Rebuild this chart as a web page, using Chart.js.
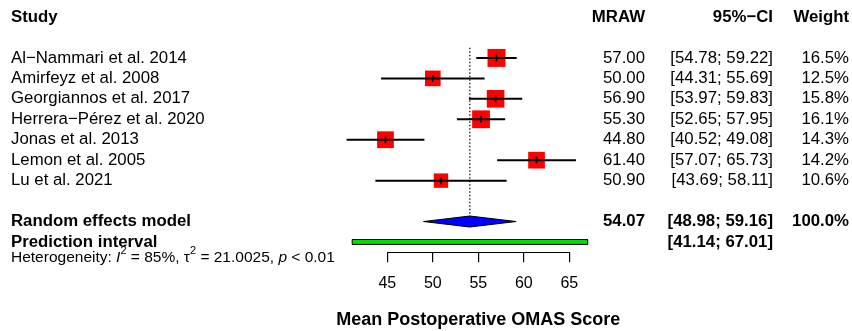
<!DOCTYPE html>
<html lang="en">
<head>
    <meta charset="UTF-8">
    <title>Forest plot</title>
    <script src="https://cdn.jsdelivr.net/npm/chart.js"></script>
    <style>
        body {
            margin: 0;
            background: #fff;
        }
        canvas {
            display: block;
        }
    </style>
</head>
<body>
<canvas id="forest" width="852" height="331"></canvas>

<script>
    // study data
    const studies = ['Al\u2212Nammari et al. 2014', 'Amirfeyz et al. 2008', 'Georgiannos et al. 2017',
        'Herrera\u2212P\u00e9rez et al. 2020', 'Jonas et al. 2013', 'Lemon et al. 2005', 'Lu et al. 2021'];
    const mraw = [57.00, 50.00, 56.90, 55.30, 44.80, 61.40, 50.90];
    const ciLow = [54.78, 44.31, 53.97, 52.65, 40.52, 57.07, 43.69];
    const ciHigh = [59.22, 55.69, 59.83, 57.95, 49.08, 65.73, 58.11];
    const weights = [16.5, 12.5, 15.8, 16.1, 14.3, 14.2, 10.6];

    // random effects model + prediction interval
    const reEst = 54.07;
    const reLow = 48.98;
    const reHigh = 59.16;
    const predLow = 41.14;
    const predHigh = 67.01;

    const xTicks = [45, 50, 55, 60, 65];

    const FONT = '"Liberation Sans", Arial, sans-serif';
    const studyRow = i => 2 + i;
    const RE_ROW = 10;
    const PI_ROW = 11;
    const DIAMOND_H = 0.27;
    const PI_H = 0.12;

    const datasets = [];

    // confidence interval lines
    studies.forEach((s, i) => {
        datasets.push({
            data: [{x: ciLow[i], y: studyRow(i)}, {x: ciHigh[i], y: studyRow(i)}],
            showLine: true,
            borderColor: '#000',
            borderWidth: 2,
            pointRadius: 0,
            clip: false,
            order: 2
        });
    });

    // weighted squares (area proportional to weight)
    datasets.push({
        data: mraw.map((v, i) => ({x: v, y: studyRow(i)})),
        pointStyle: 'rect',
        pointRadius: weights.map(w => 4.43 * Math.sqrt(w) / Math.SQRT2),
        pointBackgroundColor: '#ff0000',
        pointBorderWidth: 0,
        clip: false,
        order: 3
    });

    // estimate marks
    datasets.push({
        data: mraw.map((v, i) => ({x: v, y: studyRow(i)})),
        pointStyle: 'line',
        rotation: 90,
        pointRadius: 3.5,
        pointBorderColor: '#000',
        pointBorderWidth: 1.5,
        clip: false,
        order: 1
    });

    // dotted line at pooled estimate
    datasets.push({
        data: [{x: reEst, y: 1.5}, {x: reEst, y: RE_ROW - DIAMOND_H}],
        showLine: true,
        borderColor: '#000',
        borderWidth: 1.2,
        borderDash: [1.5, 2],
        pointRadius: 0,
        clip: false,
        order: 4
    });

    // diamond
    datasets.push({
        data: [
            {x: reLow, y: RE_ROW}, {x: reEst, y: RE_ROW - DIAMOND_H},
            {x: reHigh, y: RE_ROW}, {x: reEst, y: RE_ROW + DIAMOND_H}, {x: reLow, y: RE_ROW}
        ],
        showLine: true,
        fill: 'shape',
        backgroundColor: '#0000ff',
        borderColor: '#000',
        borderWidth: 1,
        pointRadius: 0,
        clip: false,
        order: 1
    });

    // prediction interval bar
    datasets.push({
        data: [
            {x: predLow, y: PI_ROW - PI_H}, {x: predHigh, y: PI_ROW - PI_H},
            {x: predHigh, y: PI_ROW + PI_H}, {x: predLow, y: PI_ROW + PI_H}, {x: predLow, y: PI_ROW - PI_H}
        ],
        showLine: true,
        fill: 'shape',
        backgroundColor: '#00dd00',
        borderColor: '#000',
        borderWidth: 1,
        pointRadius: 0,
        clip: false,
        order: 1
    });

    function text(ctx, str, x, y, align, bold, size) {
        ctx.font = (bold ? 'bold ' : '') + (size || 16.8) + 'px ' + FONT;
        ctx.textAlign = align;
        ctx.fillText(str, x, y);
    }

    const columnText = {
        id: 'columnText',
        afterDraw(chart) {
            const ctx = chart.ctx;
            const x = chart.scales.x;
            const y = chart.scales.y;
            ctx.save();

            // axis line only between the first and last tick, like R
            const ay = Math.round(chart.chartArea.bottom) + 0.5;
            ctx.strokeStyle = '#000';
            ctx.lineWidth = 1.2;
            ctx.beginPath();
            ctx.moveTo(x.getPixelForValue(xTicks[0]), ay);
            ctx.lineTo(x.getPixelForValue(xTicks[xTicks.length - 1]), ay);
            ctx.stroke();

            ctx.fillStyle = '#000';
            ctx.textBaseline = 'middle';

            // headers
            const hy = y.getPixelForValue(0);
            text(ctx, 'Study', 11, hy, 'left', true);
            text(ctx, 'MRAW', 645, hy, 'right', true);
            text(ctx, '95%\u2212CI', 773, hy, 'right', true);
            text(ctx, 'Weight', 849, hy, 'right', true);

            studies.forEach((s, i) => {
                const py = y.getPixelForValue(studyRow(i));
                text(ctx, s, 11, py, 'left', false);
                text(ctx, mraw[i].toFixed(2), 645, py, 'right', false);
                text(ctx, '[' + ciLow[i].toFixed(2) + '; ' + ciHigh[i].toFixed(2) + ']', 773, py, 'right', false);
                text(ctx, weights[i].toFixed(1) + '%', 849, py, 'right', false);
            });

            const ry = y.getPixelForValue(RE_ROW);
            text(ctx, 'Random effects model', 11, ry, 'left', true);
            text(ctx, reEst.toFixed(2), 645, ry, 'right', true);
            text(ctx, '[' + reLow.toFixed(2) + '; ' + reHigh.toFixed(2) + ']', 773, ry, 'right', true);
            text(ctx, '100.0%', 849, ry, 'right', true);

            const py = y.getPixelForValue(PI_ROW);
            text(ctx, 'Prediction interval', 11, py, 'left', true);
            text(ctx, '[' + predLow.toFixed(2) + '; ' + predHigh.toFixed(2) + ']', 773, py, 'right', true);

            // heterogeneity line with italics and superscripts
            const hty = y.getPixelForValue(11.78);
            const parts = [
                ['Heterogeneity: ', ''], ['I', 'italic'], ['2', 'sup'], [' = 85%, ', ''],
                ['\u03c4', ''], ['2', 'sup'], [' = 21.0025, ', ''], ['p', 'italic'], [' < 0.01', '']
            ];
            let hx = 11;
            ctx.textAlign = 'left';
            parts.forEach(([str, kind]) => {
                const size = kind === 'sup' ? 11 : 15.5;
                ctx.font = (kind === 'italic' ? 'italic ' : '') + size + 'px ' + FONT;
                ctx.fillText(str, hx, kind === 'sup' ? hty - 6.5 : hty);
                hx += ctx.measureText(str).width;
            });
            ctx.restore();
        }
    };

    new Chart(document.getElementById('forest'), {
        type: 'scatter',
        data: {datasets: datasets},
        options: {
            responsive: false,
            animation: false,
            devicePixelRatio: 1,
            layout: {
                autoPadding: false,
                padding: {left: 296.3, right: 191.7, top: 6.8, bottom: 0}
            },
            plugins: {
                legend: {display: false},
                tooltip: {enabled: false}
            },
            scales: {
                x: {
                    type: 'linear',
                    min: 35,
                    max: 75,
                    afterBuildTicks: scale => {
                        scale.ticks = xTicks.map(v => ({value: v}));
                    },
                    ticks: {
                        color: '#000',
                        padding: 12,
                        font: {family: FONT, size: 16}
                    },
                    grid: {
                        drawOnChartArea: false,
                        drawTicks: true,
                        tickLength: 10,
                        color: '#000',
                        lineWidth: 1.2
                    },
                    border: {display: false},
                    title: {
                        display: true,
                        text: 'Mean Postoperative OMAS Score',
                        color: '#000',
                        font: {family: FONT, size: 18, weight: 'bold'},
                        padding: {top: 3.5, bottom: 0.5}
                    }
                },
                y: {
                    type: 'linear',
                    display: false,
                    reverse: true,
                    min: -0.5,
                    max: 11.5
                }
            }
        },
        plugins: [columnText]
    });
</script>
</body>
</html>
